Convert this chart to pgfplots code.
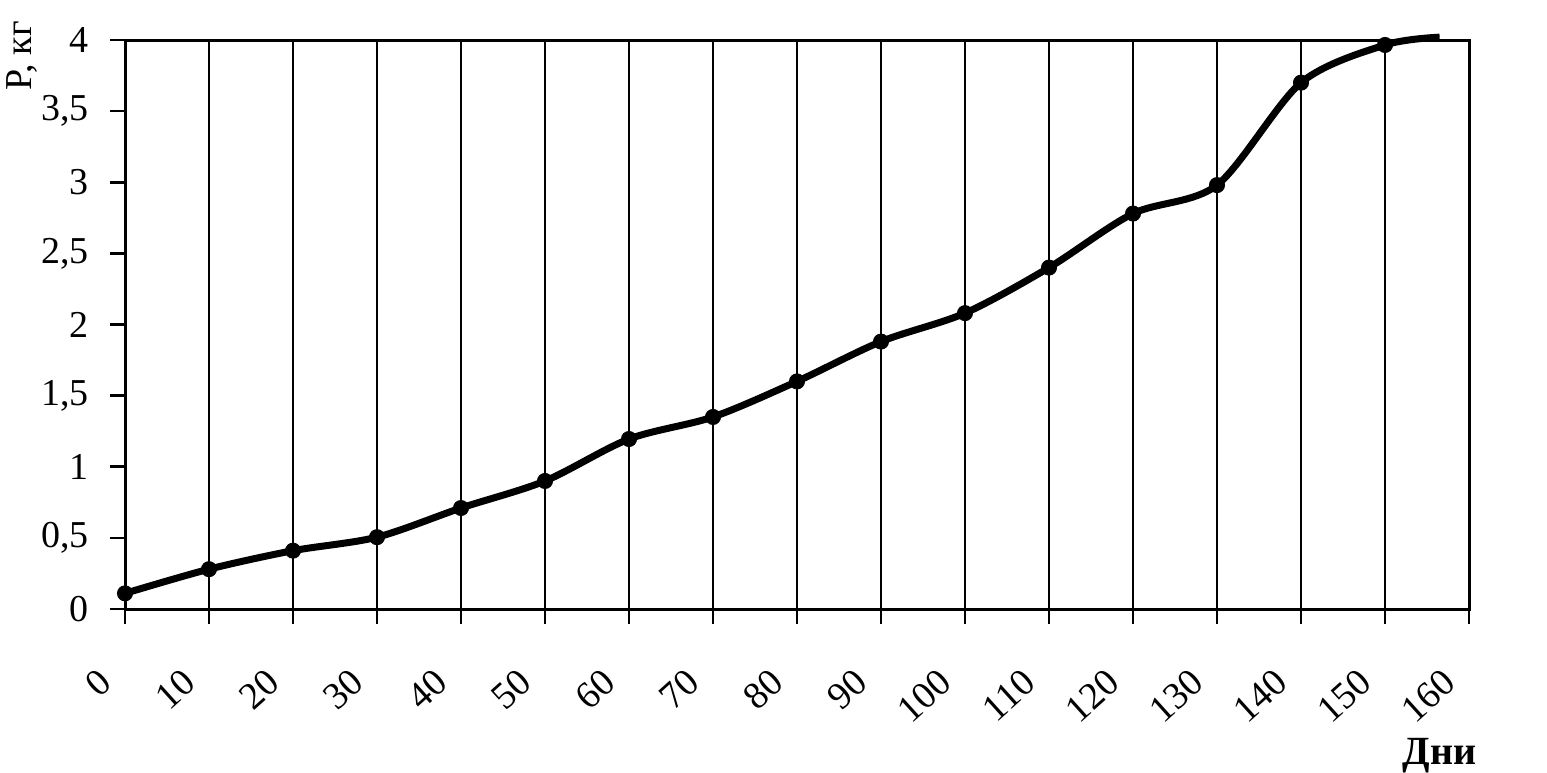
\documentclass[border=0pt]{standalone}
\usepackage{fontspec}
\setmainfont{Liberation Serif}
\usepackage{pgfplots}
\pgfplotsset{compat=1.18}
\begin{document}
\fontsize{19}{22}\selectfont
\begin{tikzpicture}
\useasboundingbox (0,0) rectangle (773.5pt,386pt);
\begin{axis}[
  at={(62.5pt,81.5pt)}, anchor=south west,
  scale only axis, width=672pt, height=284.5pt,
  xmin=0, xmax=160, ymin=0, ymax=4,
  xtick={0,10,...,160}, ytick={0,0.5,...,4},
  tick pos=left,
  axis line style={line width=1.5pt},
  major tick style={line width=1.3pt, black},
  tick align=outside, major tick length=7.5pt,
  xmajorgrids, grid style={line width=1.3pt, black},
  /pgf/number format/assume math mode=true,
  /pgf/number format/use comma,
  ticklabel style={font=\fontsize{19}{22}\selectfont},
  xticklabel style={xshift=-5pt, yshift=-22pt, rotate=42, anchor=east},
  yticklabel style={xshift=-4pt},
  ylabel={P, кг},
  ylabel style={at={(axis description cs:-0.077,0.972)}, anchor=center, rotate=0, font=\fontsize{19}{22}\selectfont},
  xlabel={\textbf{Дни}},
  xlabel style={at={(axis description cs:0.978,-0.258)}, anchor=center, font=\fontsize{20}{23}\selectfont},
  clip=false,
]
\addplot[black, line width=3.5pt, smooth, tension=0.5] coordinates {
(0,0.11) (10,0.28) (20,0.41) (30,0.505) (40,0.71) (50,0.90) (60,1.195) (70,1.35)
(80,1.60) (90,1.88) (100,2.08) (110,2.40) (120,2.78) (130,2.98) (140,3.70) (150,3.965) (156.5,4.02)
};
\addplot[only marks, mark=*, mark size=3.8pt, black] coordinates {
(0,0.11) (10,0.28) (20,0.41) (30,0.505) (40,0.71) (50,0.90) (60,1.195) (70,1.35)
(80,1.60) (90,1.88) (100,2.08) (110,2.40) (120,2.78) (130,2.98) (140,3.70) (150,3.965)
};
\end{axis}
\end{tikzpicture}
\end{document}
